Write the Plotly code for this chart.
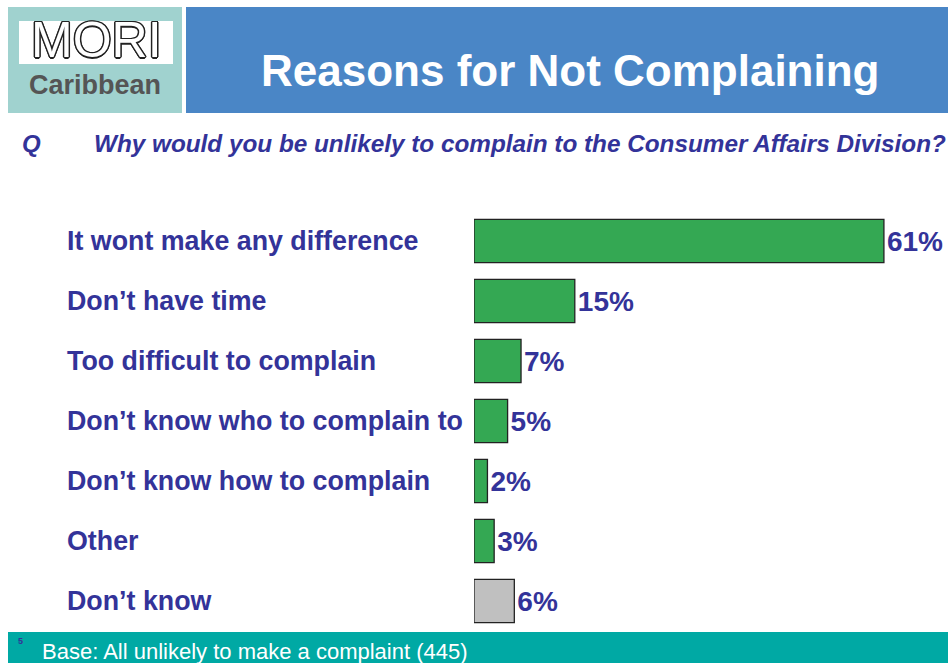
import plotly.graph_objects as go

categories = ["It wont make any difference", "Don\u2019t have time", "Too difficult to complain",
              "Don\u2019t know who to complain to", "Don\u2019t know how to complain", "Other", "Don\u2019t know"]
values = [61, 15, 7, 5, 2, 3, 6]
value_labels = ["61%", "15%", "7%", "5%", "2%", "3%", "6%"]
bar_colors = ["#34A853", "#34A853", "#34A853", "#34A853", "#34A853", "#34A853", "#C0C0C0"]

W, H = 948, 663
L, T, B = 474, 211, 32
PW = W - L
PH = H - T - B

def px(x):
    return (x - L) / PW

def py(y):
    return (H - B - y) / PH

BLUE = "#333399"
FONT = "Liberation Sans, Arial, sans-serif"

fig = go.Figure(go.Bar(
    x=values, y=categories, orientation="h",
    marker=dict(color=bar_colors, line=dict(color="#222222", width=1.3)),
    width=0.72,
    text=["<b>" + v + "</b>" for v in value_labels], textposition="outside",
    textfont=dict(family=FONT, size=28, color=BLUE),
    cliponaxis=False, hoverinfo="skip",
))

shapes = [
    dict(type="rect", xref="paper", yref="paper", x0=px(8), x1=px(182), y0=py(113), y1=py(7),
         fillcolor="#A0D2CF", line=dict(width=0), layer="below"),
    dict(type="rect", xref="paper", yref="paper", x0=px(186), x1=px(948), y0=py(113), y1=py(7),
         fillcolor="#4A86C6", line=dict(width=0), layer="below"),
    dict(type="rect", xref="paper", yref="paper", x0=px(19), x1=px(173), y0=py(64), y1=py(21),
         fillcolor="white", line=dict(width=0), layer="below"),
    dict(type="rect", xref="paper", yref="paper", x0=px(8), x1=px(948), y0=py(663), y1=py(632),
         fillcolor="#00A9A4", line=dict(width=0), layer="below"),
]

annotations = [
    dict(text="<b>Reasons for Not Complaining</b>", xref="paper", yref="paper", x=px(570), y=py(70),
         xanchor="center", yanchor="middle", showarrow=False,
         font=dict(family=FONT, size=44, color="white")),
    dict(text="MORI", xref="paper", yref="paper", x=px(96), y=py(40),
         xanchor="center", yanchor="middle", showarrow=False,
         font=dict(family=FONT, size=50, color="white",
                   shadow="1.5px 0 0 #222, -1.5px 0 0 #222, 0 1.5px 0 #222, 0 -1.5px 0 #222, 1px 1px 0 #222, -1px -1px 0 #222, 1px -1px 0 #222, -1px 1px 0 #222")),
    dict(text="<b>Caribbean</b>", xref="paper", yref="paper", x=px(95), y=py(85),
         xanchor="center", yanchor="middle", showarrow=False,
         font=dict(family=FONT, size=27, color="#555555")),
    dict(text="<b><i>Q</i></b>", xref="paper", yref="paper", x=px(20), y=py(144),
         xanchor="left", yanchor="middle", showarrow=False,
         font=dict(family=FONT, size=24, color=BLUE)),
    dict(text="<b><i>Why would you be unlikely to complain to the Consumer Affairs Division?</i></b>",
         xref="paper", yref="paper", x=px(92), y=py(144),
         xanchor="left", yanchor="middle", showarrow=False,
         font=dict(family=FONT, size=24.3, color=BLUE)),
    dict(text="<b>5</b>", xref="paper", yref="paper", x=px(16), y=py(641),
         xanchor="left", yanchor="middle", showarrow=False,
         font=dict(family=FONT, size=9, color=BLUE)),
    dict(text="Base: All unlikely to make a complaint (445)", xref="paper", yref="paper", x=px(40), y=py(651),
         xanchor="left", yanchor="middle", showarrow=False,
         font=dict(family=FONT, size=22, color="white")),
]
for c in categories:
    annotations.append(dict(text="<b>" + c + "</b>", xref="paper", yref="y", x=px(65), y=c,
                            xanchor="left", yanchor="middle", showarrow=False,
                            font=dict(family=FONT, size=26.8, color=BLUE)))

fig.update_layout(
    width=W, height=H,
    margin=dict(l=L, r=0, t=T, b=B),
    paper_bgcolor="white", plot_bgcolor="white",
    showlegend=False,
    xaxis=dict(range=[0, PW / 6.72], visible=False, fixedrange=True),
    yaxis=dict(autorange="reversed", visible=False, fixedrange=True),
    shapes=shapes, annotations=annotations,
)

fig.write_html("out.html", config={"displayModeBar": False},
               post_script="document.body.style.margin='0';document.body.style.overflow='hidden';")
